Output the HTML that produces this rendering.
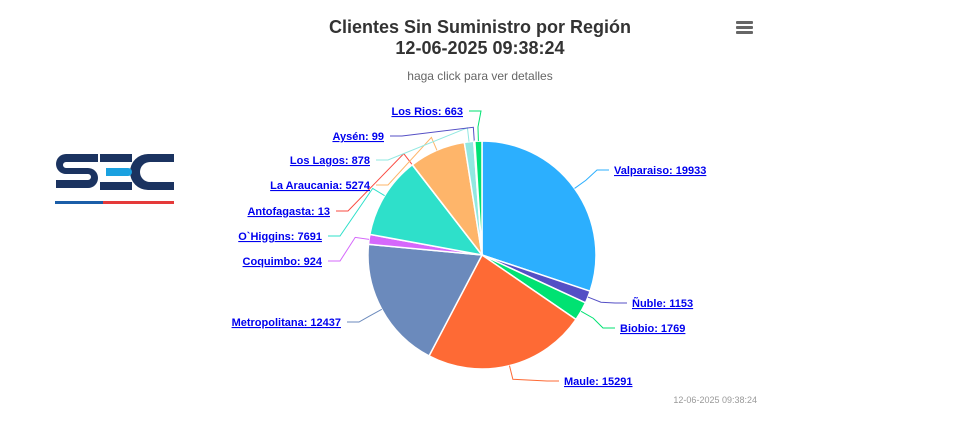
<!DOCTYPE html>
<html><head><meta charset="utf-8"><style>
body{margin:0;background:#fff;width:962px;height:424px;overflow:hidden;font-family:"Liberation Sans",sans-serif}
</style></head><body>
<svg id="s" width="962" height="424" xmlns="http://www.w3.org/2000/svg" style="position:absolute;left:0;top:0">
<rect x="190" y="0" width="580" height="410" fill="#fff"/>
<text x="480" y="33" text-anchor="middle" font-size="18" font-weight="bold" fill="#333">Clientes Sin Suministro por Región</text>
<text x="480" y="54" text-anchor="middle" font-size="18" font-weight="bold" fill="#333">12-06-2025 09:38:24</text>
<text x="480" y="80" text-anchor="middle" font-size="12" fill="#666">haga click para ver detalles</text>
<g fill="#666"><rect x="736" y="21" width="17" height="3" rx="1"/><rect x="736" y="26" width="17" height="3" rx="1"/><rect x="736" y="31" width="17" height="3" rx="1"/></g>
<text x="757" y="403" text-anchor="end" font-size="9" fill="#999">12-06-2025 09:38:24</text>
<g fill="#1b3360">
<path d="M56 154h42v8h-32a3 3 0 0 0 0 6h22a10 10 0 0 1 0 20h-32v-8h32a3 3 0 0 0 0-6h-22a10 10 0 0 1 0-20z"/>
<rect x="100" y="154" width="32" height="8"/>
<rect x="100" y="182" width="32" height="8"/>
<path d="M148 154h26v8h-24a6 6 0 0 0 0 20h24v8h-26a18 18 0 0 1 0-36z"/>
</g>
<path d="M106 168h22a4 4 0 0 1 0 8h-22z" fill="#1aa1e0"/>
<rect x="55" y="201" width="48" height="3" fill="#1b5ea8"/>
<rect x="103" y="201" width="71" height="3" fill="#e53a3a"/>
<g id="pie"></g>
</svg>
<script>
var d=[["Valparaiso: 19933",19933,"#2caffe",614,170,"s"],["Ñuble: 1153",1153,"#544fc5",632,303,"s"],["Biobio: 1769",1769,"#00e272",620,328,"s"],["Maule: 15291",15291,"#fe6a35",564,381,"s"],["Metropolitana: 12437",12437,"#6b8abc",341,322,"e"],["Coquimbo: 924",924,"#d568fb",322,261,"e"],["O`Higgins: 7691",7691,"#2ee0ca",322,236,"e"],["Antofagasta: 13",13,"#fa4b42",330,211,"e"],["La Araucania: 5274",5274,"#feb56a",370,185,"e"],["Los Lagos: 878",878,"#91e8e1",370,160,"e"],["Aysén: 99",99,"#544fc5",384,136,"e"],["Los Rios: 663",663,"#00e272",463,111,"e"]];
var cx=482,cy=255,r=114,t=0;d.forEach(x=>t+=x[1]);
var h="",a=-Math.PI/2;
d.forEach(x=>{var b=a+x[1]/t*2*Math.PI,m=(a+b)/2;
var x1=cx+r*Math.cos(a),y1=cy+r*Math.sin(a),x2=cx+r*Math.cos(b),y2=cy+r*Math.sin(b);
h+=`<path d="M${cx},${cy}L${x1},${y1}A${r},${r} 0 ${b-a>Math.PI?1:0} 1 ${x2},${y2}Z" fill="${x[2]}" stroke="#fff" stroke-width="1.5"/>`;
var ex=cx+(r)*Math.cos(m),ey=cy+r*Math.sin(m),ox=cx+(r+14)*Math.cos(m),oy=cy+(r+14)*Math.sin(m);
var lx=x[5]=="s"?x[3]-5:x[3]+6,ly=x[4],jx=x[5]=="s"?lx-12:lx+12;
h+=`<polyline points="${ex},${ey} ${ox},${oy} ${jx},${ly} ${lx},${ly}" fill="none" stroke="${x[2]}" stroke-width="1"/>`;
h+=`<text x="${x[3]}" y="${x[4]+4}" text-anchor="${x[5]=="s"?"start":"end"}" font-size="11" font-weight="bold" fill="#0000ee" text-decoration="underline">${x[0]}</text>`;
a=b;});
document.getElementById("pie").innerHTML=h;
</script>
</body></html>
